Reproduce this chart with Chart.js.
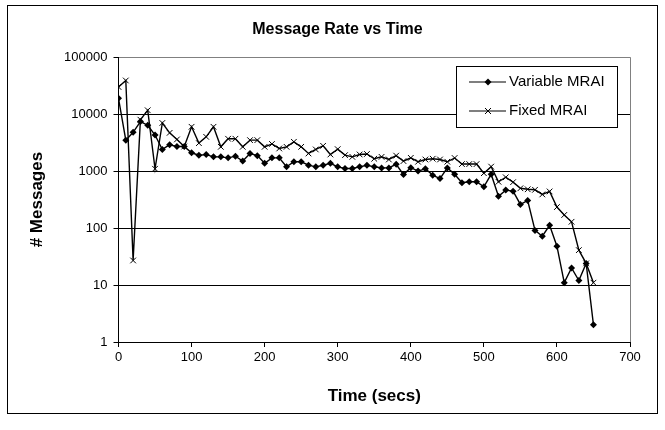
<!DOCTYPE html>
<html>
<head>
<meta charset="utf-8">
<script src="https://cdn.jsdelivr.net/npm/chart.js@4.4.0/dist/chart.umd.min.js"></script>
<style>
  html, body { margin: 0; padding: 0; background: #fff; }
  #wrap { width: 665px; height: 430px; }
</style>
</head>
<body>
<div id="wrap"><canvas id="chart" width="665" height="430"></canvas></div>
<script>
// data (10 s steps)
const times = [0, 10, 20, 30, 40, 50, 60, 70, 80, 90,
    100, 110, 120, 130, 140, 150, 160, 170, 180, 190,
    200, 210, 220, 230, 240, 250, 260, 270, 280, 290,
    300, 310, 320, 330, 340, 350, 360, 370, 380, 390,
    400, 410, 420, 430, 440, 450, 460, 470, 480, 490,
    500, 510, 520, 530, 540, 550, 560, 570, 580, 590,
    600, 610, 620, 630, 640, 650];

const variableMrai = [19000, 3500, 4800, 7400, 6400, 4300, 2400, 2900, 2700, 2700,
    2100, 1900, 1950, 1780, 1780, 1710, 1830, 1500, 2040, 1870,
    1370, 1710, 1710, 1190, 1460, 1460, 1270, 1190, 1270, 1370,
    1190, 1110, 1110, 1190, 1270, 1190, 1140, 1140, 1320, 870,
    1150, 1000, 1100, 850, 740, 1140, 880, 624, 650, 650,
    530, 880, 362, 464, 445, 260, 305, 91, 72, 112,
    48, 11, 20, 12, 24, 2];

const fixedMrai = [30000, 39000, 27, 8000, 11700, 1100, 7000, 4700, 3600, 2700,
    6000, 3100, 4000, 6000, 2670, 3700, 3700, 2670, 3500, 3500,
    2670, 3000, 2500, 2670, 3270, 2670, 2040, 2400, 2780, 1960,
    2430, 1910, 1780, 1960, 2000, 1650, 1780, 1600, 1870, 1500,
    1710, 1460, 1600, 1650, 1600, 1460, 1700, 1330, 1330, 1330,
    920, 1200, 650, 780, 640, 500, 480, 470, 390, 440,
    234, 170, 129, 41, 24, 11];

const seriesNames = ['Variable MRAI', 'Fixed MRAI'];
const xTicks = [0, 100, 200, 300, 400, 500, 600, 700];
const yTicks = [1, 10, 100, 1000, 10000, 100000];
const yTickLabels = ['1', '10', '100', '1000', '10000', '100000'];

const FONT = "'Liberation Sans', Arial, sans-serif";

function toPoints(values) {
    return times.map((t, i) => ({ x: t, y: values[i] }));
}

// outer frame, right plot border and the boxed legend
const framePlugin = {
    id: 'frame',
    beforeDraw(chart) {
        const ctx = chart.ctx;
        ctx.save();
        ctx.fillStyle = '#fff';
        ctx.fillRect(0, 0, chart.width, chart.height);
        ctx.restore();
    },
    afterDraw(chart) {
        const ctx = chart.ctx;
        const area = chart.chartArea;
        ctx.save();

        // right side of plot area
        ctx.strokeStyle = '#808080';
        ctx.lineWidth = 1;
        ctx.beginPath();
        ctx.moveTo(Math.round(area.right) + 0.5, area.top);
        ctx.lineTo(Math.round(area.right) + 0.5, area.bottom);
        ctx.stroke();

        // outer border
        ctx.strokeStyle = '#000';
        ctx.strokeRect(7.5, 5.5, 650, 408);

        // legend
        const lx = 456.5, ly = 66.5, lw = 161, lh = 61;
        ctx.fillStyle = '#fff';
        ctx.fillRect(lx, ly, lw, lh);
        ctx.strokeRect(lx, ly, lw, lh);

        ctx.font = '15px ' + FONT;
        ctx.textBaseline = 'middle';
        ctx.textAlign = 'left';
        chart.data.datasets.forEach((ds, i) => {
            const y = i === 0 ? 82 : 111;
            ctx.strokeStyle = '#000';
            ctx.lineWidth = 1.2;
            ctx.beginPath();
            ctx.moveTo(469, y);
            ctx.lineTo(506, y);
            ctx.stroke();
            const cx = 488;
            if (ds.pointStyle === 'rectRot') {
                ctx.fillStyle = '#000';
                ctx.beginPath();
                ctx.moveTo(cx, y - 3.5);
                ctx.lineTo(cx + 3.5, y);
                ctx.lineTo(cx, y + 3.5);
                ctx.lineTo(cx - 3.5, y);
                ctx.closePath();
                ctx.fill();
            } else {
                ctx.lineWidth = 1;
                ctx.beginPath();
                ctx.moveTo(cx - 3, y - 3);
                ctx.lineTo(cx + 3, y + 3);
                ctx.moveTo(cx + 3, y - 3);
                ctx.lineTo(cx - 3, y + 3);
                ctx.stroke();
            }
            ctx.fillStyle = '#000';
            ctx.fillText(ds.label, 509, y);
        });
        ctx.restore();
    }
};

new Chart(document.getElementById('chart'), {
    type: 'line',
    data: {
        datasets: [{
            label: seriesNames[0],
            data: toPoints(variableMrai),
            borderColor: '#000',
            backgroundColor: '#000',
            borderWidth: 1.4,
            pointStyle: 'rectRot',
            pointRadius: 3.5,
            pointBorderWidth: 0,
            tension: 0
        }, {
            label: seriesNames[1],
            data: toPoints(fixedMrai),
            borderColor: '#000',
            backgroundColor: '#000',
            borderWidth: 1.4,
            pointStyle: 'crossRot',
            pointRadius: 4,
            pointBorderWidth: 1,
            tension: 0
        }]
    },
    options: {
        responsive: false,
        animation: false,
        devicePixelRatio: 1,
        layout: {
            padding: { left: 45, right: 35, top: 12, bottom: 19 }
        },
        plugins: {
            legend: { display: false },
            tooltip: { enabled: false },
            title: {
                display: true,
                text: 'Message Rate vs Time',
                color: '#000',
                font: { family: FONT, size: 16, weight: 'bold' },
                padding: { top: 8, bottom: 18 }
            }
        },
        scales: {
            x: {
                type: 'linear',
                min: 0,
                max: 700,
                afterBuildTicks: axis => { axis.ticks = xTicks.map(v => ({ value: v })); },
                afterFit: axis => { axis.height = 69; },
                ticks: {
                    color: '#000',
                    padding: 3,
                    maxRotation: 0,
                    font: { family: FONT, size: 13 }
                },
                grid: {
                    drawOnChartArea: false,
                    drawTicks: true,
                    tickLength: 5,
                    tickColor: '#000'
                },
                border: { display: true, color: '#000', width: 1 },
                title: {
                    display: true,
                    text: 'Time (secs)',
                    color: '#000',
                    font: { family: FONT, size: 17, weight: 'bold' },
                    padding: { top: 4, bottom: 4 }
                }
            },
            y: {
                type: 'logarithmic',
                min: 1,
                max: 100000,
                afterBuildTicks: axis => { axis.ticks = yTicks.map(v => ({ value: v })); },
                afterFit: axis => { axis.width = 73.5; },
                ticks: {
                    color: '#000',
                    padding: 6,
                    font: { family: FONT, size: 13 },
                    callback: value => yTickLabels[yTicks.indexOf(value)]
                },
                grid: {
                    color: ctx => (ctx.tick && ctx.tick.value === 100000 ? '#808080' : '#000'),
                    tickColor: '#000',
                    tickLength: 5,
                    lineWidth: 1
                },
                border: { display: true, color: '#000', width: 1 },
                title: {
                    display: true,
                    text: '# Messages',
                    color: '#000',
                    font: { family: FONT, size: 17, weight: 'bold' },
                    padding: { top: -18, bottom: 0 }
                }
            }
        }
    },
    plugins: [framePlugin]
});
</script>
</body>
</html>
